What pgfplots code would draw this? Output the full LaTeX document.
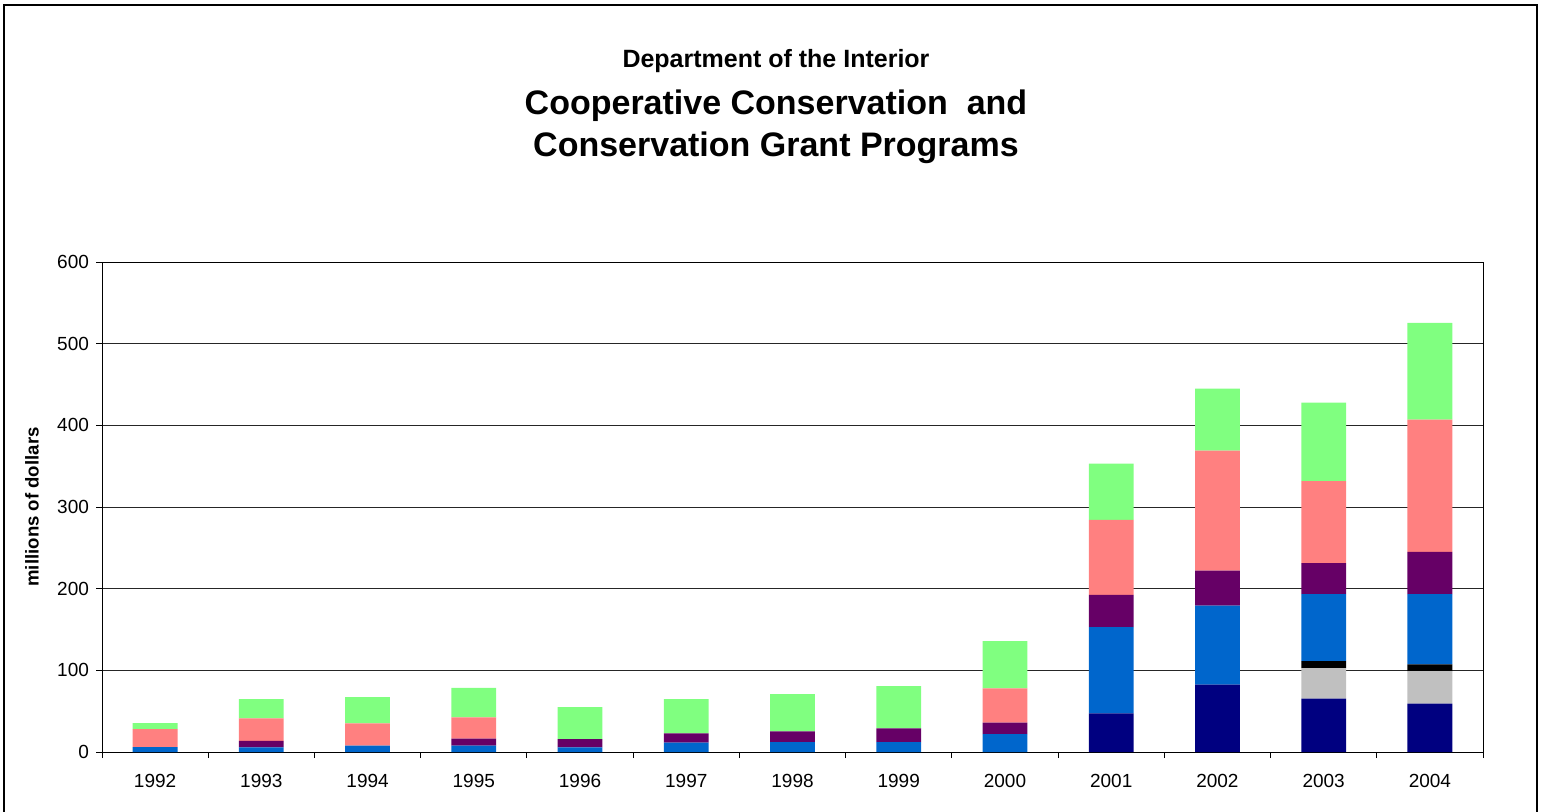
\documentclass[border=0pt]{standalone}
\usepackage{pgfplots}
\usepackage{pgfplotstable}
\usepackage{fontspec}
\setmainfont{Liberation Sans}
\pgfplotsset{compat=1.18}

\definecolor{cNavy}{HTML}{000080}
\definecolor{cSilver}{HTML}{C0C0C0}
\definecolor{cBlue}{HTML}{0066CC}
\definecolor{cPlum}{HTML}{660066}
\definecolor{cSalmon}{HTML}{FF8080}
\definecolor{cLime}{HTML}{80FF80}

% millions of dollars, stacked bottom to top
\pgfplotstableread{
x  navy  silver black blue  plum  salmon lime
0  0     0      0     6.0   0     22.0   7.3
1  0     0      0     5.7   7.8   27.7   23.7
2  0     0      0     7.8   0     27.3   32.2
3  0     0      0     7.8   8.5   26.1   36.0
4  0     0      0     5.7   10.2  0      39.2
5  0     0      0     11.4  11.4  0      42.0
6  0     0      0     12.2  13.1  0      45.7
7  0     0      0     12.2  16.8  0      51.8
8  0     0      0     22.0  13.9  42.1   57.9
9  47.2  0      0     105.6 39.5  91.8   69.0
10 82.5  0      0     96.8  42.7  147.0  76.0
11 65.4  37.4   8.5   82.1  37.8  100.5  96.0
12 59.3  39.8   8.1   86.2  51.6  162.0  118.5
}\grants

\begin{document}
\begin{tikzpicture}[x=0.5pt,y=0.5pt]
\useasboundingbox (0,0) rectangle (1543,811);
% chart frame
\draw[line width=0.8pt] (4,-10) -- (4,806) -- (1537,806) -- (1537,-10);

\node[font=\bfseries\fontsize{12.5}{15}\selectfont] at (776,750) {Department of the Interior};
\node[font=\bfseries\fontsize{17}{20}\selectfont] at (776,705) {Cooperative Conservation\ \ and};
\node[font=\bfseries\fontsize{17}{20}\selectfont] at (776,663) {Conservation Grant Programs};
\node[font=\bfseries\fontsize{9.3}{11}\selectfont, rotate=90] at (32,304) {millions of dollars};

\begin{axis}[
    at={(51pt,29.5pt)}, anchor=south west,
    scale only axis,
    width=690.5pt, height=245pt,
    ybar stacked,
    bar width=22.4pt,
    xmin=-0.5, xmax=12.5,
    ymin=0, ymax=600,
    ytick={0,100,...,600},
    % tick marks between the categories, names under their centres
    xtick={-0.5,0.5,...,12.5},
    xticklabels={},
    extra x ticks={0,...,12},
    extra x tick labels={1992,1993,1994,1995,1996,1997,1998,1999,2000,2001,2002,2003,2004},
    extra x tick style={major tick length=0pt, xticklabel style={yshift=-7.5pt}},
    tick pos=left,
    tick align=outside,
    major tick length=3pt,
    tick style={black, line width=0.5pt},
    ymajorgrids,
    major grid style={black!85, line width=0.5pt},
    axis line style={line width=0.5pt},
    tick label style={font=\fontsize{9.5}{11}\selectfont},
    /pgf/number format/assume math mode=true,
    every axis plot/.append style={draw=none},
]
\addplot[fill=cNavy]   table[x=x,y=navy]   {\grants};
\addplot[fill=cSilver] table[x=x,y=silver] {\grants};
\addplot[fill=black]   table[x=x,y=black]  {\grants};
\addplot[fill=cBlue]   table[x=x,y=blue]   {\grants};
\addplot[fill=cPlum]   table[x=x,y=plum]   {\grants};
\addplot[fill=cSalmon] table[x=x,y=salmon] {\grants};
\addplot[fill=cLime]   table[x=x,y=lime]   {\grants};
\end{axis}
\end{tikzpicture}
\end{document}
